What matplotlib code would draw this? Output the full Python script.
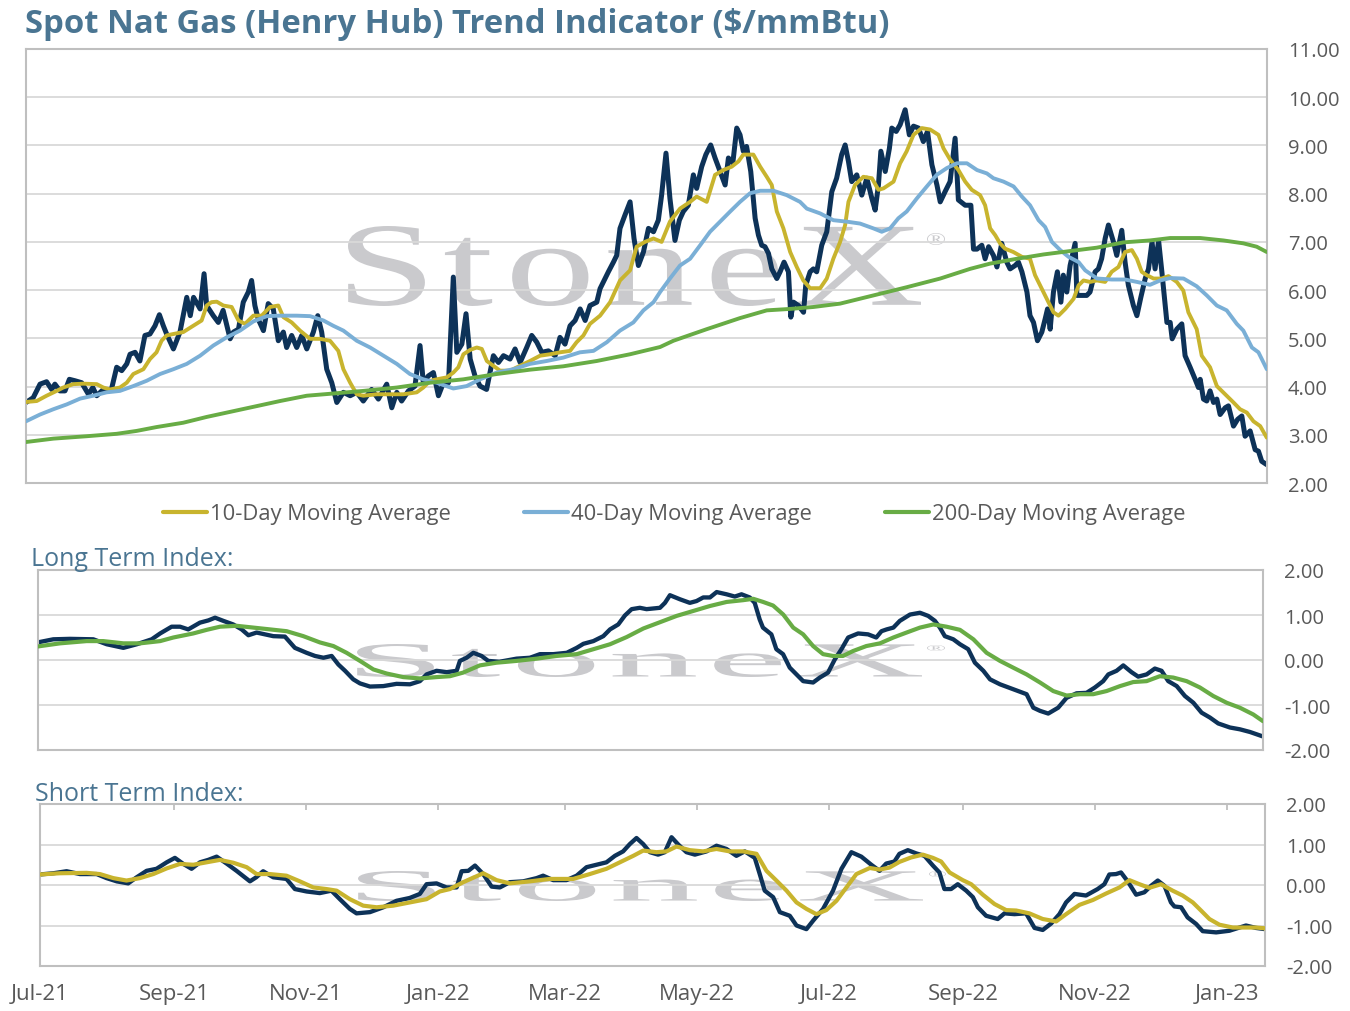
import numpy as np
import pandas as pd
import matplotlib
matplotlib.use("Agg")
import matplotlib.pyplot as plt
import matplotlib.dates as mdates
from matplotlib.ticker import FuncFormatter, FixedLocator
from matplotlib.textpath import TextPath
from matplotlib.font_manager import FontProperties
from matplotlib.patches import PathPatch
from matplotlib.transforms import Affine2D
from matplotlib.lines import Line2D

plt.rcParams["font.family"] = ["Open Sans", "DejaVu Sans"]
plt.rcParams["axes.unicode_minus"] = False

# ---------------- DATA (day offset from 1 Jul 2021, value) ----------------
START = pd.Timestamp("2021-07-01")
END_DAY = 566.6

spot = [(0,3.67),(3.3,3.77),(6.4,4.05),(9.4,4.10),(11.7,3.94),(13.2,4.05),(15.5,3.91),(17.8,3.91),(19.8,4.15),(22.4,4.12),
 (25.4,4.08),(28.5,3.84),(30.5,3.98),(32.3,3.81),(35.3,3.94),(39,3.94),(41.4,4.40),(43.7,4.33),(46,4.47),(47.5,4.67),
 (49.8,4.71),(52,4.53),(54.3,5.06),(56.6,5.09),(58.9,5.26),(60.9,5.49),(62.7,5.26),(64.2,5.09),(67.3,4.78),(70.3,5.13),
 (73.4,5.85),(75,5.47),(76.5,5.85),(79.5,5.61),(81.3,6.34),(82.5,5.68),(85.5,5.47),(87.8,5.33),(90,5.58),(93.2,4.99),
 (94.7,5.13),(97,5.19),(99.2,5.75),(101.5,5.96),(103,6.20),(104.5,5.68),(106,5.40),(108.4,5.16),(110.6,5.72),(112.9,5.61),
 (115.2,4.95),(117.5,5.13),(119,4.81),(121.3,5.06),(123.6,4.81),(125.9,5.06),(128.2,4.78),(131.2,5.13),(133.2,5.47),(135,5.13),
 (137.3,4.36),(139.6,4.08),(141.9,3.67),(144.9,3.88),(148,3.81),(151,3.88),(154,3.70),(157.8,3.94),(160.9,3.74),(164.7,4.05),
 (167,3.56),(169.3,3.88),(171.5,3.70),(174.6,3.91),(177.6,4.01),(179.9,4.85),(181.4,4.08),(183.7,4.22),(186,4.29),(188.3,3.81),
 (190.6,4.08),(192.9,4.08),(195.1,6.27),(196.7,4.71),(199,4.88),(200.9,5.51),(202.8,4.57),(205,4.22),(207.3,4.01),(210.3,3.94),
 (213.4,4.64),(215.7,4.50),(218,4.64),(221,4.57),(223.3,4.78),(225.6,4.50),(228.6,4.81),(230.9,5.06),(233.2,4.92),(235.5,4.71),
 (238.5,4.74),(241.6,4.64),(243.8,5.02),(246.1,4.88),(248.4,5.26),(250.7,5.37),(253,5.61),(255.3,5.37),(257.5,5.68),(260.6,5.75),
 (262.1,6.03),(264.4,6.24),(265.9,6.38),(268.2,6.58),(269.7,6.72),(271.2,7.28),(273.5,7.56),(275.8,7.83),(277.6,7.07),(279.6,6.51),
 (281.9,6.79),(284.2,7.28),(286.5,7.21),(288.7,7.45),(290.2,7.97),(292.2,8.84),(294,7.90),(296.3,7.03),(298.3,7.45),(300.1,7.63),
 (302.4,7.76),(304.7,8.39),(306.2,8.11),(308.5,8.56),(310.4,8.81),(312.6,9.01),(314.6,8.74),(316.9,8.46),(319.2,8.18),(320.7,8.74),
 (322.7,8.63),(324.5,9.36),(326,9.22),(327.5,8.88),(329,8.98),(330.9,8.46),(332.9,7.49),(334.4,7.14),(335.9,6.93),(337.4,6.90),
 (339,6.76),(340.5,6.44),(342.8,6.24),(344.3,6.38),(346.1,6.58),(348.1,6.38),(349.2,5.44),(350.4,5.75),(352.7,5.68),(355,5.54),
 (356,6.10),(358,6.38),(359.5,6.44),(361,6.38),(363.3,6.93),(365.6,7.21),(367.9,8.04),(370.1,8.32),(372.4,8.81),(374,9.01),
 (375.5,8.67),(377,8.25),(379.3,8.39),(381.6,7.97),(383.9,8.32),(386.2,7.90),(387.7,7.66),(389.2,8.18),(390.3,8.88),(392.3,8.46),
 (394.2,8.94),(395.3,9.36),(397.3,9.29),(399.1,9.43),(401.4,9.74),(403.3,9.22),(405.2,9.40),(407.5,9.36),(409.7,9.08),(411.6,9.29),
 (413.6,8.60),(415.9,8.18),(417.4,7.83),(419.6,8.04),(421.9,8.25),(424.2,9.15),(425.7,7.87),(428.8,7.76),(431.4,7.76),(432.6,6.85),
 (434.2,6.85),(436.4,6.93),(437.9,6.65),(439.5,6.90),(441.7,6.72),(443.3,6.48),(445.5,6.97),(447.8,6.58),(449.3,6.44),(451.6,6.51),
 (453.1,6.58),(454.7,6.38),(457,5.96),(458.4,5.47),(460,5.33),(461.8,4.95),(463.8,5.13),(465.3,5.40),(466.4,5.61),(467.6,5.19),
 (469.1,5.96),(470.9,6.38),(472.5,5.75),(473.6,6.31),(475.2,5.96),(476.7,6.51),(479,6.97),(479.8,5.89),(482,5.89),(484.3,5.89),
 (485.8,5.96),(488.1,6.38),(489.6,6.44),(491.1,6.65),(492.7,7.07),(494.2,7.35),(496.5,7.00),(498,6.72),(500.3,7.24),(501.8,6.58),
 (503.3,6.10),(505.6,5.68),(507.2,5.47),(509,5.85),(511,6.24),(512.5,6.44),(514.1,7.00),(515.5,6.44),(517.1,7.03),(518.6,6.38),
 (520.9,5.33),(522.4,5.33),(523.3,4.99),(525.4,5.19),(527.7,5.30),(529.2,4.64),(531.5,4.40),(533.8,4.15),(535.3,3.98),(536.1,4.15),
 (537.6,3.74),(539.1,3.70),(540.6,3.91),(542.2,3.67),(543.7,3.74),(545.2,3.42),(547.5,3.56),(549,3.60),(551.3,3.18),(553.2,3.32),
 (555.1,3.39),(556.6,2.97),(558.9,3.08),(561.2,2.69),(562.7,2.66),(564.2,2.45),(566.5,2.38)]

ma10 = [(0,3.68),(4.9,3.70),(9.4,3.81),(14,3.91),(17,3.98),(21.6,4.05),(26.2,4.06),(32.3,4.05),(35.3,3.98),(38.4,3.94),
 (42.9,3.98),(46,4.08),(49,4.26),(53.6,4.36),(56.6,4.57),(59.6,4.71),(61.9,4.95),(64.2,5.06),(67.3,5.09),(71.8,5.13),
 (76.4,5.26),(80.2,5.37),(82.5,5.68),(84.7,5.75),(87.1,5.76),(90.1,5.68),(93.9,5.65),(97,5.37),(100,5.30),(103.8,5.47),
 (107.6,5.47),(111.4,5.65),(115.2,5.68),(117.5,5.44),(121.3,5.33),(125.1,5.16),(129.7,4.99),(134.2,4.99),(138.8,4.95),(142.6,4.74),
 (144.9,4.36),(148,4.08),(151,3.84),(154,3.81),(160.1,3.84),(166.2,3.84),(172.3,3.84),(178.4,3.88),(181.4,3.98),(184.5,4.12),
 (187.5,4.15),(192.1,4.19),(195.1,4.29),(197.4,4.40),(199.7,4.67),(202.8,4.76),(205.8,4.81),(208.1,4.78),(210.4,4.53),(213.4,4.43),
 (216.4,4.33),(221,4.33),(225.6,4.43),(230.1,4.53),(234.7,4.64),(239.3,4.67),(243.8,4.71),(248.4,4.74),(251.4,4.92),(254.5,5.06),
 (257.5,5.30),(262.1,5.47),(266.7,5.75),(271.2,6.20),(275.8,6.41),(278.8,6.90),(282.6,7.00),(286.5,7.07),(290.2,7.00),(294,7.42),
 (298.6,7.69),(303.2,7.83),(306.2,7.94),(310.8,7.83),(314.6,8.39),(318.4,8.49),(322.2,8.56),(325.3,8.67),(327.5,8.81),(332.1,8.81),
 (335.2,8.56),(338.2,8.35),(340.5,8.18),(342.8,7.63),(345.8,7.28),(348.9,6.79),(351.9,6.48),(354.9,6.20),(358,6.04),(362.6,6.04),
 (365.6,6.24),(368.6,6.65),(371.7,7.00),(374,7.35),(375.5,7.83),(378.5,8.18),(382.3,8.35),(386.2,8.32),(389.2,8.08),(391.5,8.11),
 (396.1,8.25),(399.1,8.63),(402.1,8.88),(405.2,9.22),(409,9.36),(412.8,9.33),(416.6,9.22),(418.9,8.94),(422,8.70),(425.7,8.49),
 (428.8,8.25),(431.8,8.08),(435.6,7.97),(437.9,7.76),(440.2,7.28),(442.5,7.14),(444.7,6.97),(447,6.86),(450.8,6.79),(454.7,6.69),
 (458.4,6.65),(460.7,6.31),(463,6.10),(466.1,5.82),(469.1,5.54),(471.4,5.47),(474.5,5.61),(478.3,5.82),(480.6,6.10),(482.8,6.20),
 (485.8,6.17),(488.9,6.20),(492.7,6.17),(495.7,6.38),(498.8,6.48),(501.8,6.79),(504.9,6.83),(507.2,6.65),(509.4,6.38),(511.7,6.31),
 (514.8,6.24),(518.6,6.24),(521.6,6.29),(525.4,6.17),(528.4,5.99),(530.7,5.54),(534.5,5.19),(536.8,4.64),(540.6,4.40),(543.7,4.01),
 (548.2,3.81),(551.3,3.67),(554.3,3.53),(557.4,3.46),(560.4,3.28),(563.5,3.18),(566.5,2.94)]

ma40 = [(0,3.28),(6.4,3.42),(12.5,3.53),(18.6,3.63),(24.7,3.75),(30.7,3.81),(36.8,3.88),(42.9,3.91),(49,4.01),(55.1,4.12),
 (61.2,4.26),(67.3,4.36),(73.4,4.47),(79.5,4.64),(85.5,4.85),(91.6,5.02),(97.7,5.16),(103.8,5.35),(109.9,5.46),(116,5.47),
 (123.6,5.47),(129.7,5.46),(135.8,5.37),(140.3,5.26),(144.9,5.16),(151,4.95),(157.1,4.81),(163.2,4.64),(169.3,4.47),(175.3,4.26),
 (181.4,4.15),(187.5,4.08),(195.1,3.96),(201.2,4.01),(207.3,4.15),(214.9,4.29),(222.5,4.36),(230.1,4.47),(237.7,4.53),(245.3,4.60),
 (252.9,4.71),(259.1,4.74),(265.2,4.92),(271.2,5.16),(277.3,5.33),(281.9,5.58),(286.5,5.75),(289.5,5.96),(294,6.24),(298.6,6.51),
 (303.2,6.65),(307.8,6.93),(312.3,7.21),(316.9,7.42),(321.5,7.63),(326,7.83),(330.6,8.01),(335.2,8.06),(341.3,8.06),(347.3,7.97),
 (353.4,7.83),(356.5,7.69),(362.6,7.59),(368.6,7.45),(374.7,7.42),(380.8,7.38),(386.9,7.28),(390.7,7.21),(394.5,7.28),(398.3,7.49),
 (402.1,7.63),(406.7,7.90),(411.3,8.15),(415.8,8.39),(420.4,8.53),(425,8.63),(429.6,8.63),(434.2,8.49),(438.7,8.42),(441.7,8.32),
 (446.3,8.25),(450.9,8.15),(454.7,7.94),(458.4,7.76),(462.3,7.45),(465.3,7.31),(468.4,7.00),(472.2,6.83),(476,6.69),(480.6,6.58),
 (483.6,6.41),(489,6.24),(495.7,6.22),(501.8,6.22),(507.2,6.17),(513.2,6.11),(517.8,6.20),(522.4,6.25),(528.5,6.24),(534.5,6.08),
 (539.1,5.89),(543.7,5.68),(548.2,5.58),(552.8,5.30),(555.8,5.16),(559.7,4.81),(562.7,4.71),(566.5,4.36)]

ma200 = [(0,2.85),(12.5,2.92),(27.7,2.97),(41.4,3.02),(50.5,3.08),(59.6,3.16),(71.8,3.25),(82.5,3.37),(94.7,3.49),(106.9,3.61),
 (116,3.70),(128.2,3.81),(138.8,3.85),(154,3.91),(169.3,3.98),(184.5,4.08),(199.7,4.15),(214.9,4.26),(230.1,4.35),(245.3,4.42),
 (260.6,4.53),(275.8,4.67),(289.5,4.82),(295.6,4.95),(310.8,5.19),(326,5.42),(338.2,5.58),(348.9,5.61),(359.5,5.65),(371.7,5.72),
 (386.9,5.89),(402.1,6.06),(417.4,6.24),(431,6.44),(440.2,6.55),(452.4,6.65),(464.6,6.74),(476.7,6.81),(488.9,6.88),(501.1,6.99),
 (513.2,7.03),(522.4,7.08),(536.1,7.08),(546.7,7.03),(555.8,6.97),(561.9,6.90),(566.5,6.79)]

long_idx = [(0,0.39),(7.3,0.46),(15,0.47),(25.8,0.46),(32,0.35),(39.7,0.27),(45.9,0.35),(52.8,0.46),(56.7,0.59),(62,0.74),
 (65.9,0.74),(69.7,0.68),(75.1,0.83),(79,0.88),(82.1,0.94),(85.9,0.87),(90.5,0.79),(94.4,0.68),(97.5,0.55),(101.3,0.61),
 (105.2,0.57),(109,0.53),(114.4,0.52),(119,0.27),(124.4,0.16),(128.3,0.09),(132.2,0.05),(136,0.09),(139.1,-0.10),(142.2,-0.24),
 (146,-0.43),(149.1,-0.52),(153.7,-0.59),(159.9,-0.58),(166,-0.53),(172.2,-0.54),(176.8,-0.47),(179.9,-0.32),(184.5,-0.24),(189.2,-0.27),
 (193.8,-0.24),(195.3,-0.02),(198.4,0.05),(201.5,0.16),(205.3,0.09),(208.4,-0.02),(213.5,-0.04),(221.5,0.03),(227.7,0.05),(232.3,0.13),
 (238.5,0.13),(244.7,0.16),(249.3,0.27),(252.4,0.36),(257,0.42),(261.6,0.53),(264.7,0.68),(268.5,0.79),(271.6,0.99),(274.7,1.13),
 (278.5,1.16),(281.6,1.13),(287.8,1.16),(290.1,1.27),(292.4,1.44),(297,1.35),(301.6,1.27),(304.7,1.31),(307.8,1.39),(310.9,1.39),
 (314,1.51),(318.6,1.46),(322.4,1.41),(325.5,1.46),(329.3,1.39),(331.6,1.27),(333.9,0.90),(335.4,0.72),(339.3,0.57),(341.6,0.24),
 (344.7,0.13),(347.8,-0.17),(350.9,-0.32),(354,-0.47),(358.6,-0.50),(361.7,-0.39),(365.5,-0.28),(368.6,0.01),(371.7,0.24),(374.8,0.50),
 (379.4,0.59),(384,0.57),(387.8,0.50),(390.2,0.64),(392.6,0.68),(395.7,0.72),(398.7,0.87),(403.4,1.01),(408,1.05),(411.8,0.98),
 (414.9,0.87),(417.2,0.72),(419.5,0.53),(423.4,0.46),(426.5,0.35),(430.3,0.24),(433.4,-0.06),(437.3,-0.24),(440.4,-0.43),(445,-0.54),
 (451.1,-0.65),(457.3,-0.76),(460.4,-1.06),(463.5,-1.13),(467.3,-1.19),(471.9,-1.06),(475.8,-0.84),(480.4,-0.74),(485,-0.73),(488.9,-0.61),
 (492.7,-0.47),(495.1,-0.32),(498.9,-0.24),(502,-0.12),(505.8,-0.27),(508.9,-0.37),(512.8,-0.32),(516.6,-0.19),(519.7,-0.24),(522.8,-0.47),
 (526.7,-0.58),(530.5,-0.80),(534.4,-0.95),(538.2,-1.17),(542.1,-1.28),(545.9,-1.41),(551.3,-1.50),(555.9,-1.54),(560.6,-1.60),(566.6,-1.70)]

long_sig = [(0,0.30),(10.4,0.37),(22.7,0.42),(30.4,0.42),(39.7,0.37),(47.4,0.37),(56.7,0.42),(62.8,0.50),(72,0.59),(78.2,0.67),
 (84.4,0.74),(92.1,0.76),(99.8,0.72),(107.5,0.68),(115.2,0.64),(122.9,0.53),(130.6,0.39),(136.8,0.31),(142.9,0.16),(149.1,-0.02),
 (155.3,-0.21),(161.4,-0.30),(169.1,-0.38),(176.8,-0.41),(184.5,-0.38),(190.7,-0.36),(196.8,-0.28),(204.5,-0.12),(212.2,-0.06),(221.5,-0.02),
 (230.8,0.03),(240,0.09),(249.3,0.13),(257,0.24),(264.7,0.35),(272.4,0.51),(280.1,0.70),(287.8,0.84),(295.5,0.98),(303.2,1.09),
 (310.9,1.20),(318.6,1.29),(326.3,1.33),(330.9,1.36),(335.5,1.29),(340.1,1.21),(344.8,1.01),(349.4,0.72),(354,0.57),(358.6,0.31),
 (363.2,0.13),(367.8,0.09),(372.4,0.09),(377.1,0.20),(383.2,0.31),(389.5,0.37),(395.7,0.50),(401.8,0.61),(408,0.72),(414.2,0.79),
 (420.3,0.74),(426.5,0.67),(432.7,0.46),(438.8,0.16),(445,-0.02),(451.1,-0.17),(457.3,-0.32),(463.5,-0.50),(469.6,-0.69),(475.8,-0.79),
 (481.9,-0.76),(488.1,-0.76),(494.3,-0.69),(500.5,-0.58),(506.6,-0.49),(512.8,-0.47),(518.9,-0.36),(525.1,-0.39),(531.3,-0.47),(537.4,-0.61),
 (543.6,-0.80),(549.8,-0.95),(555.9,-1.06),(562.1,-1.21),(566.6,-1.36)]

short_idx = [(0,0.26),(6.2,0.29),(12.3,0.34),(18.5,0.27),(26.2,0.27),(30.8,0.17),(35.5,0.09),(40.8,0.04),(44.7,0.19),(49.3,0.35),
 (53.9,0.40),(58.6,0.56),(62.4,0.67),(66.3,0.52),(70.1,0.40),(74,0.56),(77.8,0.62),(81.7,0.70),(86.3,0.53),(90.9,0.35),
 (97.1,0.09),(100,0.19),(103.2,0.34),(107.9,0.19),(114,0.15),(117.9,-0.10),(123.3,-0.16),(129.4,-0.20),(134.8,-0.14),(138.7,-0.35),
 (143.3,-0.59),(146.4,-0.70),(152.6,-0.67),(158.8,-0.55),(164.9,-0.39),(171,-0.32),(175.7,-0.22),(178.8,0.02),(183.4,0.04),(188,-0.06),
 (192.7,-0.06),(195,0.34),(198.1,0.35),(201.2,0.48),(205,0.27),(208.9,-0.04),(212.7,-0.06),(217.3,0.07),(223.5,0.09),(229.7,0.17),
 (232.7,0.23),(237.4,0.12),(243.5,0.12),(248.2,0.23),(252.8,0.44),(257.4,0.50),(262,0.56),(265.9,0.72),(269.7,0.83),(272.8,1.01),
 (275.9,1.16),(279,1.01),(282.1,0.81),(285.9,0.75),(289,0.81),(292.1,1.18),(295.2,1.00),(299,0.81),(302.9,0.75),(308.3,0.83),
 (312.9,0.97),(317.5,0.89),(322.1,0.72),(326,0.83),(330.6,0.67),(332.9,0.27),(335.2,-0.14),(339.1,-0.30),(342.2,-0.67),(346.8,-0.76),
 (349.9,-1.00),(354.5,-1.09),(357.6,-0.88),(362.2,-0.59),(366.8,-0.14),(370.7,0.40),(375.3,0.81),(379.9,0.70),(384.5,0.50),(388.3,0.35),
 (391.4,0.53),(395.2,0.58),(397.5,0.77),(401.4,0.86),(405.3,0.78),(409.1,0.72),(413,0.48),(416,0.31),(418.3,-0.10),(421.4,-0.10),
 (424.5,0.02),(428.4,-0.14),(431.5,-0.30),(433.8,-0.55),(437.6,-0.76),(443,-0.84),(446.1,-0.70),(450.7,-0.72),(456.1,-0.70),(460,-1.06),
 (463.8,-1.11),(467.7,-0.95),(471.5,-0.72),(474.6,-0.43),(478.5,-0.22),(483.8,-0.26),(489.2,-0.10),(492.3,0.02),(494.6,0.26),(497.7,0.27),
 (500,0.31),(503.1,0.09),(507,-0.24),(510.8,-0.18),(513.9,-0.02),(517,0.11),(520.1,-0.02),(523.1,-0.43),(524.7,-0.53),(527.8,-0.55),
 (530.8,-0.80),(534.7,-0.96),(537.8,-1.14),(544,-1.17),(550.1,-1.13),(557.8,-1.00),(562.4,-1.06),(566.6,-1.09)]

short_sig = [(0,0.26),(9.2,0.29),(21.6,0.30),(27.7,0.27),(33.9,0.17),(40,0.11),(46.2,0.17),(52.4,0.27),(58.6,0.41),(64.7,0.52),
 (70.9,0.50),(77,0.56),(83.2,0.62),(89.4,0.55),(95.6,0.44),(100.2,0.27),(106.3,0.27),(114,0.23),(120.2,0.09),(126.4,-0.06),
 (132.5,-0.10),(137.2,-0.14),(143.3,-0.35),(149.5,-0.51),(155.7,-0.55),(163.4,-0.51),(171.1,-0.43),(178.8,-0.35),(184.9,-0.16),(189.6,-0.10),
 (195.8,0.07),(205,0.29),(211.2,0.12),(217.3,0.04),(226.6,0.09),(235.8,0.15),(246.6,0.15),(254.3,0.27),(262,0.40),(268.2,0.56),
 (274.4,0.72),(279,0.85),(285.1,0.81),(289.8,0.83),(294.4,0.95),(300.6,0.86),(306.7,0.83),(312.9,0.89),(319,0.83),(325.2,0.83),
 (331.4,0.77),(336,0.35),(340.6,0.11),(345.3,-0.14),(349.9,-0.43),(354.5,-0.59),(359.1,-0.72),(363.7,-0.62),(368.4,-0.39),(373,-0.06),
 (377.6,0.27),(383.8,0.42),(388.3,0.38),(392.9,0.43),(397.5,0.57),(402.9,0.68),(408.3,0.75),(413,0.67),(416.8,0.58),(420.7,0.31),
 (426.8,0.12),(430.7,0.02),(436.1,-0.24),(441.5,-0.47),(446.9,-0.62),(451.5,-0.63),(457.6,-0.70),(463.8,-0.84),(470,-0.90),(474.6,-0.72),
 (480.8,-0.49),(487,-0.37),(493.1,-0.21),(499.3,-0.06),(503.9,0.12),(508.5,0.02),(513.1,-0.07),(518.5,0.02),(523.9,-0.14),(528.5,-0.26),
 (533.2,-0.43),(537,-0.63),(540.9,-0.84),(545.5,-0.98),(551.7,-1.05),(557.8,-1.05),(562.4,-1.05),(566.6,-1.07)]

price_ticks = [2, 3, 4, 5, 6, 7, 8, 9, 10, 11]
index_ticks = [-2, -1, 0, 1, 2]
month_ticks = ["2021-07-01", "2021-09-01", "2021-11-01", "2022-01-01", "2022-03-01",
               "2022-05-01", "2022-07-01", "2022-09-01", "2022-11-01", "2023-01-01"]
legend_labels = ["10-Day Moving Average", "40-Day Moving Average", "200-Day Moving Average"]

# ---------------- STYLE ----------------
NAVY = "#0D3258"
GOLD = "#C8B42E"
LBLUE = "#7AAFD6"
GREEN = "#68AC45"
TITLE_C = "#4A7592"
TXT = "#595959"
GRID = "#D9D9D9"
BORDER = "#BFBFBF"
WM = "#CACACD"

W, H = 1350, 1012
fig = plt.figure(figsize=(W / 100, H / 100), dpi=100)


def series(pts):
    d = np.array([p[0] for p in pts], float)
    v = np.array([p[1] for p in pts], float)
    return START + pd.to_timedelta(d, unit="D"), v


def px_axes(x0, y0, x1, y1):
    return fig.add_axes([x0 / W, 1 - y1 / H, (x1 - x0) / W, (y1 - y0) / H])


def style(ax, ylo, yhi, ticks):
    ax.set_xlim(START, START + pd.Timedelta(days=END_DAY))
    ax.set_ylim(ylo, yhi)
    ax.yaxis.tick_right()
    ax.yaxis.set_major_locator(FixedLocator(ticks))
    ax.yaxis.set_major_formatter(FuncFormatter(lambda v, p: f"{v:.2f}"))
    ax.tick_params(axis="y", length=0, pad=15, labelsize=14.5, labelcolor=TXT)
    ax.set_axisbelow(True)
    ax.grid(axis="y", color=GRID, lw=1.3)
    for s in ax.spines.values():
        s.set_color(BORDER)
        s.set_linewidth(1.5)


fp_serif = FontProperties(family="Liberation Serif")


def watermark(ax, x0, x1, ytop, ybot, reg_box, sx_em):
    """Draw a stretched 'StoneX' logo into figure-pixel box."""
    letters = "StoneX"
    paths = [TextPath((0, 0), ch, size=1, prop=fp_serif) for ch in letters]
    exts = [p.get_extents() for p in paths]
    s_ext = exts[0]
    sy = (ybot - ytop) / (s_ext.y1 - s_ext.y0)
    base = H - ybot - s_ext.y0 * sy  # baseline (pixels from bottom)
    widths = [e.width * sx_em for e in exts]
    gap = ((x1 - x0) - sum(widths)) / (len(letters) - 1)
    cur = x0
    for p, e, w in zip(paths, exts, widths):
        tr = (Affine2D().translate(-e.x0, 0).scale(sx_em, sy).translate(cur, base)
              .scale(1 / W, 1 / H) + fig.transFigure)
        ax.add_artist(PathPatch(p, transform=tr, facecolor=WM, edgecolor="none", zorder=0.2))
        cur += w + gap
    rp = TextPath((0, 0), "\u00ae", size=1, prop=fp_serif)
    re = rp.get_extents()
    rx0, rx1, ry0, ry1 = reg_box
    tr = (Affine2D().translate(-re.x0, -re.y0)
          .scale((rx1 - rx0) / re.width, (ry1 - ry0) / re.height)
          .translate(rx0, H - ry1).scale(1 / W, 1 / H) + fig.transFigure)
    ax.add_artist(PathPatch(rp, transform=tr, facecolor=WM, edgecolor="none", zorder=0.2))


SX = 180.0  # horizontal pixels per em for the logo glyphs

# ---------------- TOP PANEL ----------------
ax1 = px_axes(26, 50, 1267, 484)
style(ax1, 2, 11, price_ticks)
ax1.set_xticks([])
watermark(ax1, 348, 921, 227, 307, (927, 945, 234, 246), SX)
kw = dict(solid_joinstyle="round", solid_capstyle="round")
x, y = series(spot);  ax1.plot(x, y, color=NAVY, lw=3.6, zorder=2, **kw)
x, y = series(ma10);  ax1.plot(x, y, color=GOLD, lw=2.8, zorder=3, **kw)
x, y = series(ma40);  ax1.plot(x, y, color=LBLUE, lw=2.8, zorder=4, **kw)
x, y = series(ma200); ax1.plot(x, y, color=GREEN, lw=2.8, zorder=5, **kw)

# legend (drawn manually below the top panel)
for (lx0, lx1, tx), col, lab in zip([(163, 207, 210), (524, 568, 571), (885, 929, 932)],
                                    [GOLD, LBLUE, GREEN], legend_labels):
    fig.add_artist(Line2D([lx0 / W, lx1 / W], [1 - 513 / H] * 2, color=col, lw=3,
                          solid_capstyle="round", transform=fig.transFigure))
    fig.text(tx / W, 1 - 520 / H, lab, fontsize=15.8, color=TXT, va="baseline", ha="left")

# ---------------- MIDDLE PANEL ----------------
ax2 = px_axes(37.5, 571, 1263, 751)
style(ax2, -2, 2, index_ticks)
ax2.set_xticks([])
watermark(ax2, 357, 922, 645, 678, (927, 945, 646, 652), SX)
x, y = series(long_idx); ax2.plot(x, y, color=NAVY, lw=3.1, zorder=2, **kw)
x, y = series(long_sig); ax2.plot(x, y, color=GREEN, lw=3.0, zorder=3, **kw)

# ---------------- BOTTOM PANEL ----------------
ax3 = px_axes(40, 805, 1265, 967)
style(ax3, -2, 2, index_ticks)
watermark(ax3, 358, 923, 872, 902, (929, 946, 872, 878), SX)
x, y = series(short_idx); ax3.plot(x, y, color=NAVY, lw=3.1, zorder=2, **kw)
x, y = series(short_sig); ax3.plot(x, y, color=GOLD, lw=3.0, zorder=3, **kw)
ax3.set_xticks(pd.to_datetime(month_ticks))
ax3.xaxis.set_major_formatter(mdates.DateFormatter("%b-%y"))
ax3.tick_params(axis="x", bottom=False, top=True, labelbottom=True, labeltop=False,
                direction="in", length=4.5, width=1.3, color=BORDER,
                labelsize=16, labelcolor=TXT, pad=12)

# ---------------- TEXTS ----------------
fig.text(25 / W, 1 - 33 / H, "Spot Nat Gas (Henry Hub) Trend Indicator ($/mmBtu)",
         fontsize=23.7, fontweight="bold", color=TITLE_C, va="baseline", ha="left")
fig.text(31 / W, 1 - 566 / H, "Long Term Index:", fontsize=18, color=TITLE_C,
         va="baseline", ha="left")
fig.text(35 / W, 1 - 801 / H, "Short Term Index:", fontsize=18, color=TITLE_C,
         va="baseline", ha="left")

fig.savefig("out.png", dpi=100)
